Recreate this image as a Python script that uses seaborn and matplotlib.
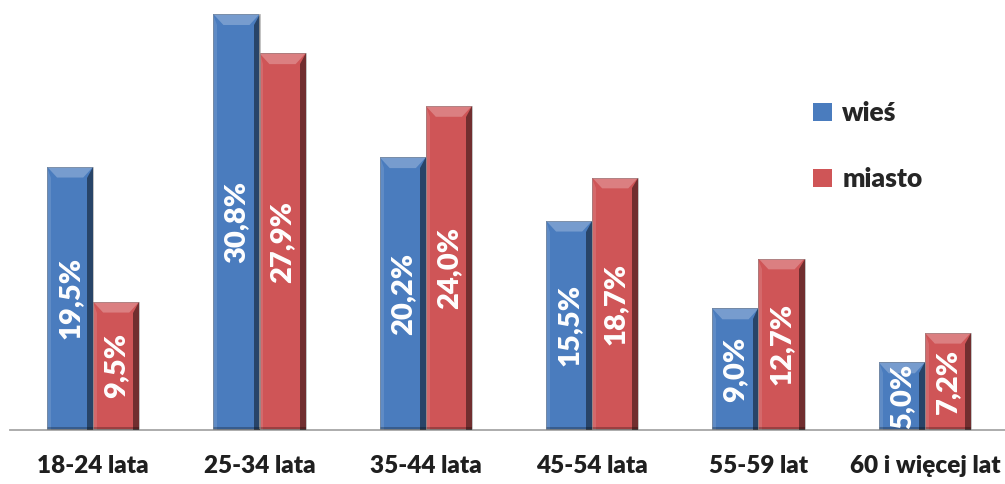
import pandas as pd
import matplotlib.pyplot as plt
import seaborn as sns
from matplotlib.patches import Polygon

grupy = ['18-24 lata', '25-34 lata', '35-44 lata', '45-54 lata', '55-59 lat', '60 i więcej lat']
wies = [19.5, 30.8, 20.2, 15.5, 9.0, 5.0]
miasto = [9.5, 27.9, 24.0, 18.7, 12.7, 7.2]
serie = ['wieś', 'miasto']
kolory = ['#4A7CBE', '#CF5557']

df = pd.DataFrame({
    'grupa': grupy * 2,
    'wartosc': wies + miasto,
    'typ': [serie[0]] * len(grupy) + [serie[1]] * len(grupy),
})

sns.set_style('white')
plt.rcParams['font.family'] = ['Lato', 'DejaVu Sans']

fig = plt.figure(figsize=(10.05, 4.84), dpi=100)
ax = fig.add_axes([10 / 1005, 54 / 484, 998 / 1005, 430 / 484])

sns.barplot(data=df, x='grupa', y='wartosc', hue='typ', palette=kolory,
            width=0.554, gap=0, saturation=1, ax=ax, linewidth=0)

ax.set_xlim(-0.5, len(grupy) - 0.5)
ax.set_ylim(0, 31.85)

# bevel look on every bar
bx, by = 0.06, 0.8
for patch in ax.patches:
    x0 = patch.get_x()
    w = patch.get_width()
    h = patch.get_height()
    if w == 0 or h == 0:
        continue
    x1 = x0 + w
    byy = min(by, h / 3)
    top = Polygon([(x0, h), (x1, h), (x1 - bx, h - byy), (x0 + bx, h - byy)],
                  closed=True, facecolor='white', alpha=0.25, lw=0, zorder=3)
    right = Polygon([(x1, h), (x1, 0), (x1 - bx * 0.6, 0), (x1 - bx * 0.6, h - byy)],
                    closed=True, facecolor='black', alpha=0.45, lw=0, zorder=3)
    left = Polygon([(x0, h), (x0, 0), (x0 + bx * 0.4, 0), (x0 + bx * 0.4, h - byy)],
                   closed=True, facecolor='white', alpha=0.12, lw=0, zorder=3)
    bottom = Polygon([(x0, 0), (x1, 0), (x1, 0.25), (x0, 0.25)],
                     closed=True, facecolor='black', alpha=0.25, lw=0, zorder=3)
    edge = Polygon([(x0, 0), (x0, h), (x1, h), (x1, 0)], closed=True,
                   fill=False, edgecolor='#888888', lw=0.6, alpha=0.6, zorder=3)
    for p in (top, right, left, bottom, edge):
        ax.add_patch(p)

for cont in ax.containers:
    etykiety = [f'{v:.1f}%'.replace('.', ',') for v in cont.datavalues]
    for t in ax.bar_label(cont, labels=etykiety, label_type='center', rotation=90,
                          color='white', fontsize=21, fontweight='heavy'):
        t.set_zorder(5)

for s in ['top', 'right', 'left']:
    ax.spines[s].set_visible(False)
ax.spines['bottom'].set_color('#A6A6A6')
ax.spines['bottom'].set_linewidth(1.3)

ax.set_yticks([])
ax.set_xlabel('')
ax.set_ylabel('')
ax.set_xticks(range(len(grupy)))
ax.set_xticklabels(grupy, fontsize=17.5, fontweight='heavy', color='#1F1F1F')
ax.set_xticks([i - 0.5 for i in range(len(grupy) + 1)], minor=True)
ax.tick_params(axis='x', which='major', length=0, pad=18)
ax.tick_params(axis='x', which='minor', length=8, width=1.3, color='#A6A6A6', direction='out')

ax.legend(loc='upper left', bbox_to_anchor=(0.781, 0.82), frameon=False,
          prop={'weight': 'heavy', 'size': 19}, labelspacing=1.6,
          handlelength=0.7, handleheight=0.7, handletextpad=0.4)

fig.savefig('out.png', dpi=100)
